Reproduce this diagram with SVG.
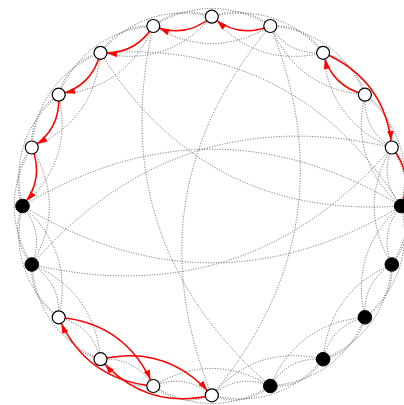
<svg xmlns="http://www.w3.org/2000/svg" width="404" height="405" viewBox="0 0 404 405">
<style>
.g{fill:none;stroke:#606060;stroke-width:1;stroke-dasharray:1 1.6}
.r{fill:none;stroke:#ff0000;stroke-width:1.5;marker-end:url(#ah)}
.w{fill:#fff;stroke:#000;stroke-width:1.2}
.b{fill:#000;stroke:#000;stroke-width:1}
</style>
<defs>
<marker id="ah" viewBox="0 0 30 10" markerWidth="30" markerHeight="10" refX="27.5" refY="5" orient="auto" markerUnits="userSpaceOnUse">
<path d="M11,1.8 L20,5 L11,8.2 z" fill="#ff0000"/>
</marker>
</defs>
<rect width="404" height="405" fill="#fff"/>
<g id="edges">
<path class="g" d="M211.8,16.7 Q243.8,3.8 270.3,26"/>
<path class="g" d="M270.3,26 Q304.8,23.6 323.1,52.8"/>
<path class="g" d="M323.1,52.8 Q356.6,61.2 364.9,94.7"/>
<path class="g" d="M364.9,94.7 Q394.2,113.1 391.8,147.5"/>
<path class="g" d="M401.1,206 Q414,238 391.8,264.5"/>
<path class="g" d="M391.8,264.5 Q394.2,298.9 364.9,317.3"/>
<path class="g" d="M364.9,317.3 Q356.6,350.8 323.1,359.2"/>
<path class="g" d="M323.1,359.2 Q304.8,388.4 270.3,386"/>
<path class="g" d="M270.3,386 Q243.8,408.2 211.8,395.3"/>
<path class="g" d="M211.8,395.3 Q179.8,408.2 153.3,386"/>
<path class="g" d="M153.3,386 Q118.8,388.4 100.5,359.2"/>
<path class="g" d="M100.5,359.2 Q67,350.8 58.7,317.3"/>
<path class="g" d="M58.7,317.3 Q29.4,298.9 31.8,264.5"/>
<path class="g" d="M31.8,264.5 Q9.6,238 22.5,206"/>
<path class="g" d="M22.5,206 Q9.6,174 31.8,147.5"/>
<path class="g" d="M31.8,147.5 Q29.4,113.1 58.7,94.7"/>
<path class="g" d="M58.7,94.7 Q67,61.2 100.5,52.8"/>
<path class="g" d="M100.5,52.8 Q118.8,23.6 153.3,26"/>
<path class="g" d="M153.3,26 Q179.8,3.8 211.8,16.7"/>
<path class="g" d="M323.1,52.8 Q288.6,55.2 270.3,26"/>
<path class="g" d="M391.8,147.5 Q362.6,129.2 364.9,94.7"/>
<path class="g" d="M401.1,206 Q378.9,179.5 391.8,147.5"/>
<path class="g" d="M391.8,264.5 Q378.9,232.5 401.1,206"/>
<path class="g" d="M364.9,317.3 Q362.6,282.8 391.8,264.5"/>
<path class="g" d="M323.1,359.2 Q331.4,325.6 364.9,317.3"/>
<path class="g" d="M270.3,386 Q288.6,356.8 323.1,359.2"/>
<path class="g" d="M211.8,395.3 Q238.3,373.1 270.3,386"/>
<path class="g" d="M153.3,386 Q185.3,373.1 211.8,395.3"/>
<path class="g" d="M100.5,359.2 Q135,356.8 153.3,386"/>
<path class="g" d="M58.7,317.3 Q92.2,325.6 100.5,359.2"/>
<path class="g" d="M31.8,264.5 Q61,282.8 58.7,317.3"/>
<path class="g" d="M22.5,206 Q44.7,232.5 31.8,264.5"/>
<path class="g" d="M153.3,26 Q211.8,-9.1 270.3,26"/>
<path class="g" d="M211.8,16.7 Q278.3,1.4 323.1,52.8"/>
<path class="g" d="M270.3,26 Q338.3,32 364.9,94.7"/>
<path class="g" d="M364.9,94.7 Q416.4,139.5 401.1,206"/>
<path class="g" d="M391.8,147.5 Q426.9,206 391.8,264.5"/>
<path class="g" d="M401.1,206 Q416.4,272.5 364.9,317.3"/>
<path class="g" d="M391.8,264.5 Q385.8,332.4 323.1,359.2"/>
<path class="g" d="M364.9,317.3 Q338.3,380 270.3,386"/>
<path class="g" d="M323.1,359.2 Q278.3,410.6 211.8,395.3"/>
<path class="g" d="M270.3,386 Q211.8,421.1 153.3,386"/>
<path class="g" d="M100.5,359.2 Q37.8,332.4 31.8,264.5"/>
<path class="g" d="M58.7,317.3 Q7.2,272.5 22.5,206"/>
<path class="g" d="M31.8,264.5 Q-3.3,206 31.8,147.5"/>
<path class="g" d="M22.5,206 Q7.2,139.5 58.7,94.7"/>
<path class="g" d="M31.8,147.5 Q37.8,79.6 100.5,52.8"/>
<path class="g" d="M58.7,94.7 Q85.4,32 153.3,26"/>
<path class="g" d="M100.5,52.8 Q145.3,1.4 211.8,16.7"/>
<path class="g" d="M270.3,26 Q211.8,61.1 153.3,26"/>
<path class="g" d="M323.1,52.8 Q256.6,68.2 211.8,16.7"/>
<path class="g" d="M364.9,94.7 Q297,88.8 270.3,26"/>
<path class="g" d="M391.8,147.5 Q329.1,120.8 323.1,52.8"/>
<path class="g" d="M401.1,206 Q349.6,161.2 364.9,94.7"/>
<path class="g" d="M391.8,264.5 Q356.7,206 391.8,147.5"/>
<path class="g" d="M364.9,317.3 Q349.6,250.8 401.1,206"/>
<path class="g" d="M323.1,359.2 Q329.1,291.2 391.8,264.5"/>
<path class="g" d="M270.3,386 Q297,323.3 364.9,317.3"/>
<path class="g" d="M211.8,395.3 Q256.6,343.8 323.1,359.2"/>
<path class="g" d="M153.3,386 Q211.8,350.9 270.3,386"/>
<path class="g" d="M31.8,264.5 Q94.5,291.2 100.5,359.2"/>
<path class="g" d="M22.5,206 Q74,250.8 58.7,317.3"/>
<path class="g" d="M31.8,147.5 Q66.9,206 31.8,264.5"/>
<path class="g" d="M58.7,94.7 Q74,161.2 22.5,206"/>
<path class="g" d="M100.5,52.8 Q94.5,120.8 31.8,147.5"/>
<path class="g" d="M153.3,26 Q126.6,88.8 58.7,94.7"/>
<path class="g" d="M211.8,16.7 Q167,68.2 100.5,52.8"/>
<path class="g" d="M270.3,26 Q351.9,228.2 211.8,395.3"/>
<path class="g" d="M211.8,395.3 Q130.3,193.1 270.3,26"/>
<path class="g" d="M22.5,206 Q211.8,92.4 401.1,206"/>
<path class="g" d="M401.1,206 Q211.8,319.6 22.5,206"/>
<path class="g" d="M401.1,206 Q204.9,219.6 100.5,52.8"/>
<path class="g" d="M100.5,52.8 Q296.8,39.3 401.1,206"/>
<path class="g" d="M31.8,264.5 Q176.7,98 391.8,147.5"/>
<path class="g" d="M391.8,147.5 Q246.9,314 31.8,264.5"/>
<path class="g" d="M270.3,386 Q103.8,241.1 153.3,26"/>
<path class="r" d="M270.3,26 Q238.3,38.9 211.8,16.7"/>
<path class="r" d="M211.8,16.7 Q185.3,38.9 153.3,26"/>
<path class="r" d="M153.3,26 Q135,55.2 100.5,52.8"/>
<path class="r" d="M100.5,52.8 Q92.2,86.4 58.7,94.7"/>
<path class="r" d="M58.7,94.7 Q61,129.2 31.8,147.5"/>
<path class="r" d="M31.8,147.5 Q44.7,179.5 22.5,206"/>
<path class="r" d="M364.9,94.7 Q331.4,86.4 323.1,52.8"/>
<path class="r" d="M323.1,52.8 Q385.8,79.6 391.8,147.5"/>
<path class="r" d="M391.8,147.5 Q414,174 401.1,206"/>
<path class="r" d="M58.7,317.3 Q126.6,323.3 153.3,386"/>
<path class="r" d="M153.3,386 Q85.4,380 58.7,317.3"/>
<path class="r" d="M100.5,359.2 Q167,343.8 211.8,395.3"/>
<path class="r" d="M211.8,395.3 Q145.3,410.6 100.5,359.2"/>
</g>
<g id="n0"><circle class="w" cx="211.8" cy="16.7" r="6.5"/></g>
<g id="n1"><circle class="w" cx="270.3" cy="26" r="6.5"/></g>
<g id="n2"><circle class="w" cx="323.1" cy="52.8" r="6.5"/></g>
<g id="n3"><circle class="w" cx="364.9" cy="94.7" r="6.5"/></g>
<g id="n4"><circle class="w" cx="391.8" cy="147.5" r="6.5"/></g>
<g id="n5"><circle class="b" cx="401.1" cy="206" r="6.8"/></g>
<g id="n6"><circle class="b" cx="391.8" cy="264.5" r="6.8"/></g>
<g id="n7"><circle class="b" cx="364.9" cy="317.3" r="6.8"/></g>
<g id="n8"><circle class="b" cx="323.1" cy="359.2" r="6.8"/></g>
<g id="n9"><circle class="b" cx="270.3" cy="386" r="6.8"/></g>
<g id="n10"><circle class="w" cx="211.8" cy="395.3" r="6.5"/></g>
<g id="n11"><circle class="w" cx="153.3" cy="386" r="6.5"/></g>
<g id="n12"><circle class="w" cx="100.5" cy="359.2" r="6.5"/></g>
<g id="n13"><circle class="w" cx="58.7" cy="317.3" r="6.5"/></g>
<g id="n14"><circle class="b" cx="31.8" cy="264.5" r="6.8"/></g>
<g id="n15"><circle class="b" cx="22.5" cy="206" r="6.8"/></g>
<g id="n16"><circle class="w" cx="31.8" cy="147.5" r="6.5"/></g>
<g id="n17"><circle class="w" cx="58.7" cy="94.7" r="6.5"/></g>
<g id="n18"><circle class="w" cx="100.5" cy="52.8" r="6.5"/></g>
<g id="n19"><circle class="w" cx="153.3" cy="26" r="6.5"/></g>
</svg>
